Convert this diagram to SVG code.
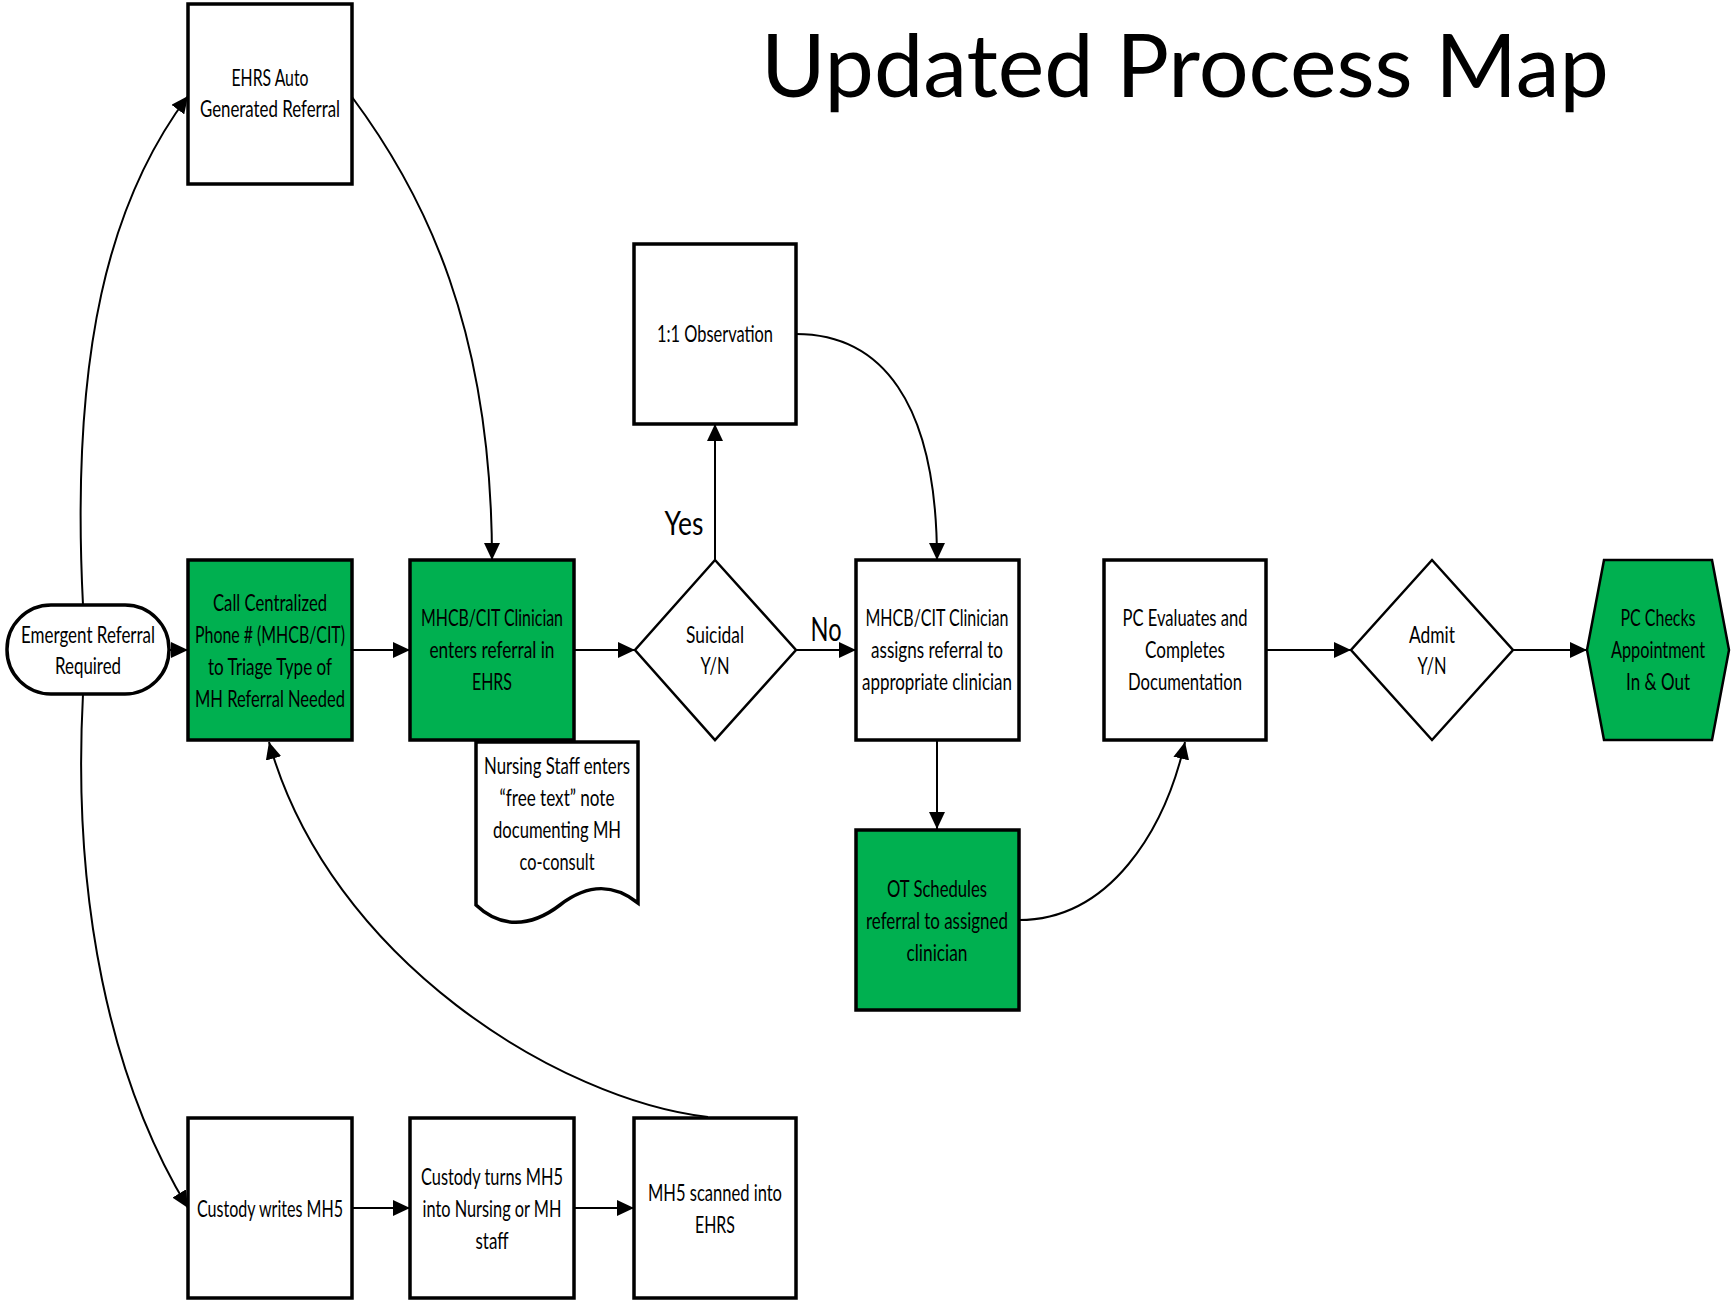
<svg xmlns="http://www.w3.org/2000/svg" width="1734" height="1303" viewBox="0 0 1734 1303">
<style>
.box{fill:#fff;stroke:#000;stroke-width:3.5}
.green{fill:#00B050;stroke:#000;stroke-width:3.5}
.dia{fill:#fff;stroke:#000;stroke-width:2.5}
.conn{fill:none;stroke:#000;stroke-width:2}
text{font-family:Lato,"Liberation Sans",Arial,sans-serif;fill:#000}
.t{font-size:23px;text-anchor:middle;dominant-baseline:central}
.lbl{font-size:32px;text-anchor:middle;dominant-baseline:central}
</style>
<defs>
<marker id="arr" markerUnits="userSpaceOnUse" markerWidth="18" markerHeight="16" refX="17" refY="8" orient="auto">
<path d="M0,0 L17,8 L0,16 z" fill="#000"/>
</marker>
</defs>
<rect width="1734" height="1303" fill="#fff"/>
<text x="761" y="97" font-size="88" textLength="848" lengthAdjust="spacingAndGlyphs">Updated Process Map</text>

<g id="connectors">
<path class="conn" d="M169,650 H188" marker-end="url(#arr)"/>
<path class="conn" d="M352,650 H410" marker-end="url(#arr)"/>
<path class="conn" d="M574,650 H635" marker-end="url(#arr)"/>
<path class="conn" d="M715,560 V424" marker-end="url(#arr)"/>
<path class="conn" d="M796,650 H856" marker-end="url(#arr)"/>
<path class="conn" d="M796,334 C880,334 937,400 937,560" marker-end="url(#arr)"/>
<path class="conn" d="M937,740 V829" marker-end="url(#arr)"/>
<path class="conn" d="M1019,920 C1110,920 1165,830 1185,742" marker-end="url(#arr)"/>
<path class="conn" d="M1266,650 H1351" marker-end="url(#arr)"/>
<path class="conn" d="M1513,650 H1587" marker-end="url(#arr)"/>
<path class="conn" d="M83,605 C70,350 110,200 188,96" marker-end="url(#arr)"/>
<path class="conn" d="M352,97 C425,195 492,330 492,560" marker-end="url(#arr)"/>
<path class="conn" d="M83,694 C72,900 110,1080 188,1208" marker-end="url(#arr)"/>
<path class="conn" d="M352,1208 H410" marker-end="url(#arr)"/>
<path class="conn" d="M574,1208 H634" marker-end="url(#arr)"/>
<path class="conn" d="M708,1117 C560,1100 330,960 269,742" marker-end="url(#arr)"/>
<text class="lbl" x="684" y="522" textLength="39" lengthAdjust="spacingAndGlyphs">Yes</text>
<text class="lbl" x="826" y="628" textLength="31" lengthAdjust="spacingAndGlyphs">No</text>
</g>

<g id="ehrs-auto">
<rect class="box" x="188" y="4" width="164" height="180"/>
<text class="t" x="270" y="77" textLength="77" lengthAdjust="spacingAndGlyphs">EHRS Auto</text>
<text class="t" x="270" y="108" textLength="140" lengthAdjust="spacingAndGlyphs">Generated Referral</text>
</g>

<g id="emergent">
<rect class="box" x="7" y="605" width="162" height="89" rx="44" ry="44" stroke-width="2.5"/>
<text class="t" x="88" y="634" textLength="134" lengthAdjust="spacingAndGlyphs">Emergent Referral</text>
<text class="t" x="88" y="665" textLength="66" lengthAdjust="spacingAndGlyphs">Required</text>
</g>

<g id="call-centralized">
<rect class="green" x="188" y="560" width="164" height="180"/>
<text class="t" x="270" y="602" textLength="114" lengthAdjust="spacingAndGlyphs">Call Centralized</text>
<text class="t" x="270" y="634" textLength="150" lengthAdjust="spacingAndGlyphs">Phone # (MHCB/CIT)</text>
<text class="t" x="270" y="666" textLength="124" lengthAdjust="spacingAndGlyphs">to Triage Type of</text>
<text class="t" x="270" y="698" textLength="150" lengthAdjust="spacingAndGlyphs">MH Referral Needed</text>
</g>

<g id="mhcb-enters">
<rect class="green" x="410" y="560" width="164" height="180"/>
<text class="t" x="492" y="617" textLength="142" lengthAdjust="spacingAndGlyphs">MHCB/CIT Clinician</text>
<text class="t" x="492" y="649" textLength="125" lengthAdjust="spacingAndGlyphs">enters referral in</text>
<text class="t" x="492" y="681" textLength="40" lengthAdjust="spacingAndGlyphs">EHRS</text>
</g>

<g id="nursing-note">
<path class="box" stroke-width="2" d="M476,742 H638 V903 C615,885 590,882 560,905 C530,928 500,928 476,905 Z"/>
<text class="t" x="557" y="765" textLength="146" lengthAdjust="spacingAndGlyphs">Nursing Staff enters</text>
<text class="t" x="557" y="797" textLength="115" lengthAdjust="spacingAndGlyphs">“free text” note</text>
<text class="t" x="557" y="829" textLength="128" lengthAdjust="spacingAndGlyphs">documenting MH</text>
<text class="t" x="557" y="861" textLength="75" lengthAdjust="spacingAndGlyphs">co-consult</text>
</g>

<g id="suicidal">
<polygon class="dia" points="715,560 796,650 715,740 635,650"/>
<text class="t" x="715" y="634" textLength="58" lengthAdjust="spacingAndGlyphs">Suicidal</text>
<text class="t" x="715" y="665" textLength="29" lengthAdjust="spacingAndGlyphs">Y/N</text>
</g>

<g id="observation">
<rect class="box" x="634" y="244" width="162" height="180"/>
<text class="t" x="715" y="333" textLength="116" lengthAdjust="spacingAndGlyphs">1:1 Observation</text>
</g>

<g id="mhcb-assigns">
<rect class="box" x="856" y="560" width="163" height="180"/>
<text class="t" x="937" y="617" textLength="143" lengthAdjust="spacingAndGlyphs">MHCB/CIT Clinician</text>
<text class="t" x="937" y="649" textLength="132" lengthAdjust="spacingAndGlyphs">assigns referral to</text>
<text class="t" x="937" y="681" textLength="150" lengthAdjust="spacingAndGlyphs">appropriate clinician</text>
</g>

<g id="ot-schedules">
<rect class="green" x="856" y="830" width="163" height="180"/>
<text class="t" x="937" y="888" textLength="100" lengthAdjust="spacingAndGlyphs">OT Schedules</text>
<text class="t" x="937" y="920" textLength="142" lengthAdjust="spacingAndGlyphs">referral to assigned</text>
<text class="t" x="937" y="952" textLength="61" lengthAdjust="spacingAndGlyphs">clinician</text>
</g>

<g id="pc-evaluates">
<rect class="box" x="1104" y="560" width="162" height="180"/>
<text class="t" x="1185" y="617" textLength="125" lengthAdjust="spacingAndGlyphs">PC Evaluates and</text>
<text class="t" x="1185" y="649" textLength="80" lengthAdjust="spacingAndGlyphs">Completes</text>
<text class="t" x="1185" y="681" textLength="114" lengthAdjust="spacingAndGlyphs">Documentation</text>
</g>

<g id="admit">
<polygon class="dia" points="1432,560 1513,650 1432,740 1351,650"/>
<text class="t" x="1432" y="634" textLength="46" lengthAdjust="spacingAndGlyphs">Admit</text>
<text class="t" x="1432" y="665" textLength="29" lengthAdjust="spacingAndGlyphs">Y/N</text>
</g>

<g id="pc-checks">
<polygon points="1587,650 1604,560 1712,560 1729,650 1712,740 1604,740" fill="#00B050" stroke="#000" stroke-width="2.5"/>
<text class="t" x="1658" y="617" textLength="75" lengthAdjust="spacingAndGlyphs">PC Checks</text>
<text class="t" x="1658" y="649" textLength="94" lengthAdjust="spacingAndGlyphs">Appointment</text>
<text class="t" x="1658" y="681" textLength="64" lengthAdjust="spacingAndGlyphs">In &amp; Out</text>
</g>

<g id="custody-writes">
<rect class="box" x="188" y="1118" width="164" height="180"/>
<text class="t" x="270" y="1208" textLength="146" lengthAdjust="spacingAndGlyphs">Custody writes MH5</text>
</g>

<g id="custody-turns">
<rect class="box" x="410" y="1118" width="164" height="180"/>
<text class="t" x="492" y="1176" textLength="142" lengthAdjust="spacingAndGlyphs">Custody turns MH5</text>
<text class="t" x="492" y="1208" textLength="139" lengthAdjust="spacingAndGlyphs">into Nursing or MH</text>
<text class="t" x="492" y="1240" textLength="33" lengthAdjust="spacingAndGlyphs">staff</text>
</g>

<g id="mh5-scanned">
<rect class="box" x="634" y="1118" width="162" height="180"/>
<text class="t" x="715" y="1192" textLength="134" lengthAdjust="spacingAndGlyphs">MH5 scanned into</text>
<text class="t" x="715" y="1224" textLength="40" lengthAdjust="spacingAndGlyphs">EHRS</text>
</g>
</svg>
